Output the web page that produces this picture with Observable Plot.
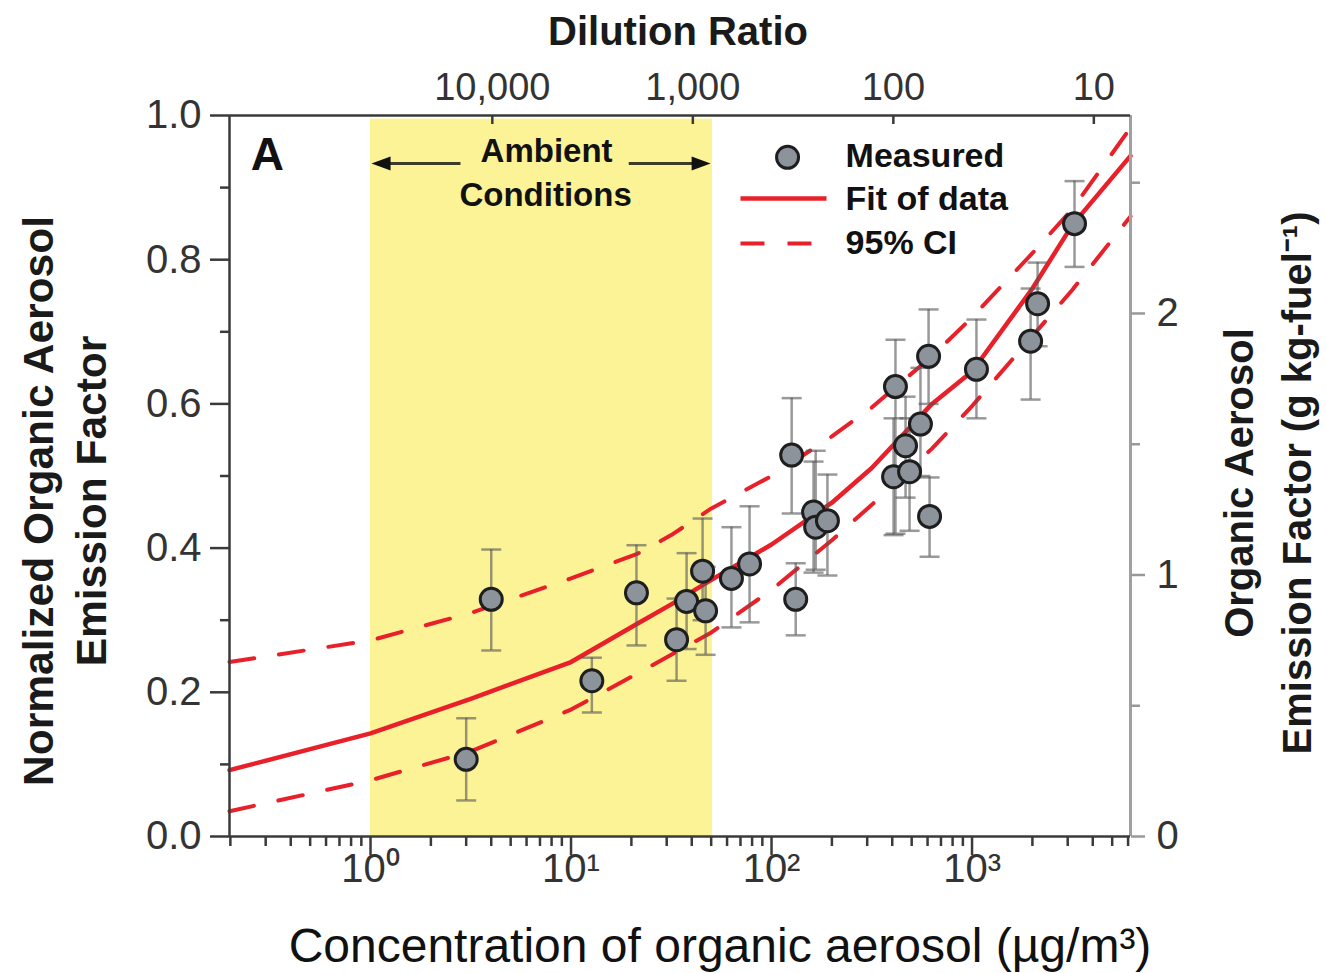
<!DOCTYPE html>
<html><head><meta charset="utf-8">
<script src="https://cdn.jsdelivr.net/npm/d3@7"></script>
<script src="https://cdn.jsdelivr.net/npm/@observablehq/plot@0.6"></script>
<style>
  html,body{margin:0;padding:0;background:#fff}
  svg{display:block}
</style>
</head><body><div id="chart"></div>
<script>
// ---- Measured data (concentration µg/m3, normalized emission factor, error bar low/high)
const conc    = [3.0, 4.0, 12.7, 21.2, 33.6, 37.7, 45.3, 46.9, 63.1, 77.7, 126, 132, 162, 166, 190, 415, 406, 466, 488, 553, 607, 614, 1052, 1959, 2123, 3244];
const norm    = [0.107, 0.329, 0.216, 0.338, 0.273, 0.326, 0.368, 0.313, 0.358, 0.378, 0.529, 0.329, 0.450, 0.429, 0.438, 0.624, 0.499, 0.542, 0.506, 0.572, 0.666, 0.444, 0.648, 0.687, 0.739, 0.850];
const errLow  = [0.050, 0.258, 0.172, 0.265, 0.216, 0.260, 0.300, 0.252, 0.290, 0.297, 0.448, 0.279, 0.366, 0.370, 0.362, 0.420, 0.418, 0.470, 0.424, 0.500, 0.600, 0.388, 0.580, 0.606, 0.680, 0.790];
const errHigh = [0.164, 0.398, 0.248, 0.404, 0.330, 0.393, 0.441, 0.374, 0.429, 0.458, 0.608, 0.379, 0.520, 0.535, 0.502, 0.689, 0.580, 0.610, 0.580, 0.650, 0.731, 0.498, 0.717, 0.760, 0.796, 0.909];

// ---- Fit and 95% confidence interval curves
const fitConc  = [0.198, 1, 3.16, 10, 21.4, 31.6, 50.1, 100, 200, 316, 631, 1000, 2000, 3160, 6170];
const fitNorm  = [0.092, 0.143, 0.191, 0.242, 0.295, 0.322, 0.356, 0.405, 0.463, 0.511, 0.600, 0.645, 0.760, 0.848, 0.944];
const ciUpper  = [0.242, 0.272, 0.310, 0.358, 0.392, 0.418, 0.455, 0.500, 0.555, 0.595, 0.666, 0.720, 0.809, 0.870, 0.983];
const ciLower  = [0.035, 0.078, 0.118, 0.176, 0.226, 0.252, 0.283, 0.342, 0.411, 0.460, 0.538, 0.597, 0.694, 0.758, 0.860];

// ---- Axes / ranges
const xDomain = [0.198, 6170];
const yDomain = [0, 1];
const ambientRange = [1, 50.8];
const leftTicks  = [0, 0.2, 0.4, 0.6, 0.8, 1.0];
const leftMinor  = [0.1, 0.3, 0.5, 0.7, 0.9];
const concDecades = [1, 10, 100, 1000];
const decadeLabels = ["10\u2070", "10\u00B9", "10\u00B2", "10\u00B3"];
const dilutionTicks  = [10000, 1000, 100, 10];
const dilutionLabels = ["10,000", "1,000", "100", "10"];
const dilutionConst = 40500;        // dilution ratio × concentration
const efFactor = 2.757;             // g kg-fuel^-1 per normalized unit
const rightTicks = [0, 1, 2];
const rightMinor = [0.5, 1.5, 2.5];

const RED = "#e8202a";
const YELLOW = "#fcf397";
const AX = "#3a3a3a";

const points = conc.map((c, i) => ({c, v: norm[i], lo: errLow[i], hi: errHigh[i]}));
const fitRows = fitConc.map((c, i) => ({c, fit: fitNorm[i], hi: ciUpper[i], lo: ciLower[i]}));
const topRows = dilutionTicks.map((d, i) => ({c: dilutionConst / d, label: dilutionLabels[i]}));

// minor log ticks (2..9 within each decade)
const minorX = [];
for (const d of [0.1, 1, 10, 100, 1000]) for (let k = 2; k <= 9; k++) {
  const v = d * k; if (v >= xDomain[0] * 0.999 && v <= xDomain[1]) minorX.push(v);
}

const capSymbol = {draw(ctx) { ctx.moveTo(-10, 0); ctx.lineTo(10, 0); }};
const headLeft  = {draw(ctx) { ctx.moveTo(-10, 0); ctx.lineTo(9, -7); ctx.lineTo(9, 7); ctx.closePath(); }};
const headRight = {draw(ctx) { ctx.moveTo(10, 0); ctx.lineTo(-9, -7); ctx.lineTo(-9, 7); ctx.closePath(); }};

const FONT = "'Liberation Sans', Arial, Helvetica, sans-serif";

const chart = Plot.plot({
  width: 1326, height: 973,
  marginTop: 115, marginRight: 196, marginBottom: 137, marginLeft: 229,
  style: {fontFamily: FONT, fontSize: "40px", color: "#222", background: "#fff"},
  x: {type: "log", domain: xDomain},
  y: {domain: yDomain},
  marks: [
    // ambient region
    Plot.rect([ambientRange], {x1: d => d[0], x2: d => d[1], y1: yDomain[0], y2: 0.995, fill: YELLOW}),
    // CI and fit
    Plot.line(fitRows, {x: "c", y: "hi", stroke: RED, strokeWidth: 4, strokeDasharray: "25,25"}),
    Plot.line(fitRows, {x: "c", y: "lo", stroke: RED, strokeWidth: 4, strokeDasharray: "25,25"}),
    Plot.line(fitRows, {x: "c", y: "fit", stroke: RED, strokeWidth: 4.5}),
    // error bars
    Plot.ruleX(points, {x: "c", y1: "lo", y2: "hi", stroke: "#555", strokeOpacity: 0.6, strokeWidth: 2.5}),
    Plot.dot(points, {x: "c", y: "lo", symbol: capSymbol, stroke: "#555", strokeOpacity: 0.6, strokeWidth: 2.5, fill: "none"}),
    Plot.dot(points, {x: "c", y: "hi", symbol: capSymbol, stroke: "#555", strokeOpacity: 0.6, strokeWidth: 2.5, fill: "none"}),
    // measured points
    Plot.dot(points, {x: "c", y: "v", r: 11, fill: "#8c939a", stroke: "#1e1e1e", strokeWidth: 3}),
    // frame
    Plot.ruleX([xDomain[1]], {stroke: "#a0a0a0", strokeWidth: 3}),
    Plot.ruleY([yDomain[1]], {stroke: AX, strokeWidth: 2.5}),
    Plot.ruleY([yDomain[0]], {stroke: AX, strokeWidth: 2.5}),
    Plot.ruleX([xDomain[0]], {stroke: AX, strokeWidth: 2.5}),
    // left axis
    Plot.axisY({anchor: "left", ticks: leftTicks, tickSize: 19, tickPadding: 9, tickFormat: d3.format(".1f"), label: null, stroke: AX, strokeWidth: 2.5, fill: "#333", fontSize: 40}),
    Plot.axisY({anchor: "left", ticks: leftMinor, tickSize: 9, tickFormat: () => "", label: null, stroke: AX, strokeWidth: 2.5}),
    // right axis (g kg-fuel^-1)
    Plot.axisY({anchor: "right", ticks: rightTicks.map(v => v / efFactor), tickSize: 14, tickPadding: 12, tickFormat: d => String(Math.round(d * efFactor)), label: null, stroke: "#999", strokeWidth: 2.5, fill: "#333", fontSize: 40}),
    Plot.axisY({anchor: "right", ticks: rightMinor.map(v => v / efFactor), tickSize: 9, tickFormat: () => "", label: null, stroke: "#999", strokeWidth: 2.5}),
    // bottom axis
    Plot.axisX({anchor: "bottom", ticks: concDecades, tickSize: 19, tickPadding: -2, tickFormat: d => decadeLabels[concDecades.indexOf(d)], label: null, stroke: AX, strokeWidth: 2.5, fill: "#333", fontSize: 40}),
    Plot.axisX({anchor: "bottom", ticks: minorX, tickSize: 10, tickFormat: () => "", label: null, stroke: AX, strokeWidth: 2.5}),
    // top axis (dilution ratio)
    Plot.ruleX(topRows, {x: "c", y1: 0.9875, y2: 1, stroke: AX, strokeWidth: 2.5}),
    Plot.text(topRows, {x: "c", y: 1, dy: -28, text: "label", lineAnchor: "middle", fill: "#333", fontSize: 38}),
    // axis titles
    Plot.text(["Dilution Ratio"], {frameAnchor: "top", dx: -2, dy: -83, lineAnchor: "middle", fontWeight: "bold", fontSize: 40, fill: "#1a1a1a"}),
    Plot.text(["Concentration of organic aerosol (\u00B5g/m\u00B3)"], {frameAnchor: "bottom", dx: 40, dy: 110, lineAnchor: "middle", fontSize: 48, fill: "#111"}),
    Plot.text(["Normalized Organic Aerosol\nEmission Factor"], {frameAnchor: "left", textAnchor: "middle", rotate: -90, dx: -167, dy: 25, lineAnchor: "middle", lineHeight: 1.25, fontWeight: "bold", fontSize: 42.5, fill: "#1a1a1a"}),
    Plot.text(["Organic Aerosol\nEmission Factor (g kg-fuel\u207B\u00B9)"], {frameAnchor: "right", textAnchor: "middle", rotate: -90, dx: 133, dy: 7, lineAnchor: "middle", lineHeight: 1.45, fontWeight: "bold", fontSize: 40, fill: "#1a1a1a"}),
    // panel letter
    Plot.text(["A"], {x: 0.306, y: 0.945, fontWeight: "bold", fontSize: 46, fill: "#111"}),
    // ambient annotation
    Plot.text(["Ambient"], {x: 7.55, y: 0.950, fontWeight: "bold", fontSize: 33, fill: "#111"}),
    Plot.text(["Conditions"], {x: 7.47, y: 0.889, fontWeight: "bold", fontSize: 33, fill: "#111"}),
    Plot.link([{a: 1.2, b: 2.81}, {a: 19.4, b: 42}], {x1: "a", x2: "b", y1: 0.9334, y2: 0.9334, stroke: "#3c3c28", strokeWidth: 3}),
    Plot.dot([1.135], {x: d => d, y: 0.9334, symbol: headLeft, fill: "#111", stroke: "none"}),
    Plot.dot([44.3], {x: d => d, y: 0.9334, symbol: headRight, fill: "#111", stroke: "none"}),
    // legend
    Plot.dot([120.2], {x: d => d, y: 0.942, r: 11, fill: "#8c939a", stroke: "#1e1e1e", strokeWidth: 3}),
    Plot.link([0], {x1: 70, x2: 188, y1: 0.885, y2: 0.885, stroke: RED, strokeWidth: 4.5}),
    Plot.link([0], {x1: 70, x2: 188, y1: 0.8225, y2: 0.8225, stroke: RED, strokeWidth: 4, strokeDasharray: "24,23"}),
    Plot.text(["Measured", "Fit of data", "95% CI"], {x: 234, y: (d, i) => [0.944, 0.8835, 0.8225][i], textAnchor: "start", fontWeight: "bold", fontSize: 34, fill: "#111"})
  ]
});
document.getElementById("chart").appendChild(chart);
</script>
</body></html>
